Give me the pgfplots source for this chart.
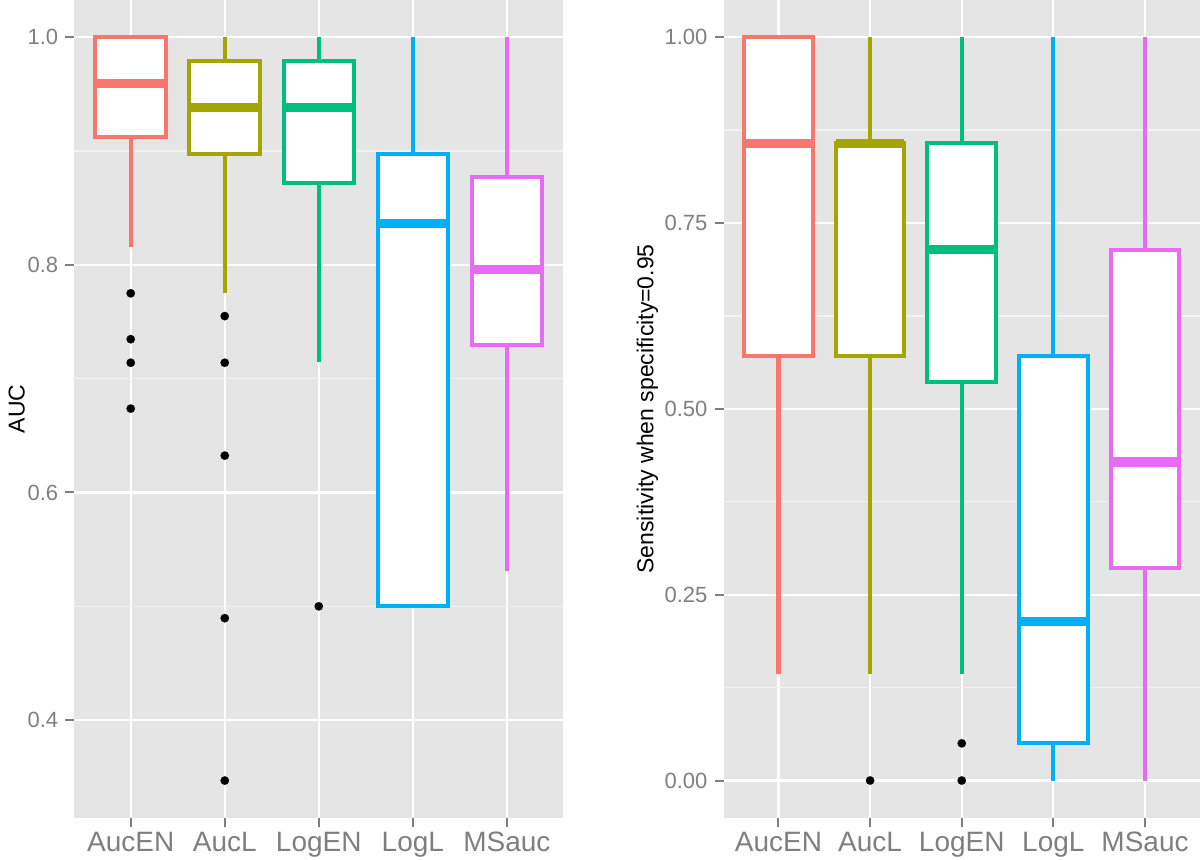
\documentclass[border=0pt]{standalone}
\usepackage{pgfplots}
\pgfplotsset{compat=1.18}
\usepgfplotslibrary{statistics}
\usepackage{fontspec}
\setmainfont{Liberation Sans}
\definecolor{cA}{HTML}{F8766D}
\definecolor{cB}{HTML}{A3A500}
\definecolor{cC}{HTML}{00BF7D}
\definecolor{cD}{HTML}{00B0F6}
\definecolor{cE}{HTML}{E76BF3}
\definecolor{bggray}{HTML}{E5E5E5}
\definecolor{minorgray}{HTML}{F2F2F2}
\definecolor{tickgray}{HTML}{7F7F7F}
\pgfplotsset{
  ggbox/.style={
    scale only axis,
    height=408.85pt,
    axis background/.style={fill=bggray},
    axis line style={draw=none},
    tick align=outside,
    xtick pos=left, ytick pos=left,
    major tick length=4.5pt,
    minor tick length=0pt,
    tick style={color=tickgray, line width=1pt},
    xmajorgrids, ymajorgrids, yminorgrids,
    major grid style={white, line width=1.1pt},
    minor grid style={minorgray, line width=0.6pt},
    xmin=0.4, xmax=5.6,
    xtick={1,2,3,4,5},
    xticklabels={AucEN,AucL,LogEN,LogL,MSauc},
    xticklabel style={font=\fontsize{14}{16}\selectfont, text=tickgray, inner sep=2.5pt},
    yticklabel style={font=\fontsize{11}{13}\selectfont, text=tickgray},
    ylabel style={font=\fontsize{11.5}{13}\selectfont, text=black, anchor=center},
    boxplot/draw direction=y,
    boxplot/box extend=0.75,
    boxplot/whisker extend=0,
    boxplot/every box/.append style={fill=white, line width=2pt},
    boxplot/every whisker/.append style={line width=2.1pt},
    boxplot/every median/.style={line width=4.6pt},
  },
  gg/.style={line width=2pt, solid, mark=*, mark size=2.1pt,
    mark options={draw=black, fill=black, line width=0.1pt}},
}
\begin{document}
\begin{tikzpicture}
\path[use as bounding box] (0,0) rectangle (600pt,430pt);
% ---------------- left panel: AUC ----------------
\begin{axis}[ggbox,
  at={(37.15pt,21.15pt)}, anchor=south west,
  width=244.5pt,
  ymin=0.3143, ymax=1.0327,
  ytick={0.4,0.6,0.8,1.0}, yticklabels={0.4,0.6,0.8,1.0},
  minor ytick={0.5,0.7,0.9},
  ylabel={AUC},
  ylabel style={at={(axis description cs:-0.1178,0.5)}},
]
\addplot[gg, draw=cA, boxplot prepared={draw position=1,
  lower whisker=0.816, lower quartile=0.9127, median=0.959,
  upper quartile=1.0, upper whisker=1.0}]
  coordinates {(1,0.775) (1,0.7347) (1,0.714) (1,0.6737)};
\addplot[gg, draw=cB, boxplot prepared={draw position=2,
  lower whisker=0.7756, lower quartile=0.8975, median=0.9385,
  upper quartile=0.979, upper whisker=1.0}]
  coordinates {(2,0.755) (2,0.714) (2,0.6324) (2,0.4896) (2,0.3469)};
\addplot[gg, draw=cC, boxplot prepared={draw position=3,
  lower whisker=0.7147, lower quartile=0.8723, median=0.9385,
  upper quartile=0.979, upper whisker=1.0}]
  coordinates {(3,0.5)};
\addplot[gg, draw=cD, boxplot prepared={draw position=4,
  lower whisker=0.5, lower quartile=0.5, median=0.8366,
  upper quartile=0.8975, upper whisker=1.0}]
  coordinates {};
\addplot[gg, draw=cE, boxplot prepared={draw position=5,
  lower whisker=0.5314, lower quartile=0.7297, median=0.7956,
  upper quartile=0.8776, upper whisker=1.0}]
  coordinates {};
\end{axis}
% ---------------- right panel: sensitivity ----------------
\begin{axis}[ggbox,
  at={(361.75pt,21.15pt)}, anchor=south west,
  width=238.25pt,
  ymin=-0.05, ymax=1.05,
  ytick={0,0.25,0.5,0.75,1}, yticklabels={0.00,0.25,0.50,0.75,1.00},
  minor ytick={0.125,0.375,0.625,0.875},
  ylabel={Sensitivity when specificity=0.95},
  ylabel style={at={(axis description cs:-0.1595,0.5)}},
]
\addplot[gg, draw=cA, boxplot prepared={draw position=1,
  lower whisker=0.1429, lower quartile=0.5714, median=0.8571,
  upper quartile=1.0, upper whisker=1.0}]
  coordinates {};
\addplot[gg, draw=cB, boxplot prepared={draw position=2,
  lower whisker=0.1429, lower quartile=0.5714, median=0.8571,
  upper quartile=0.8571, upper whisker=1.0}]
  coordinates {(2,0)};
\addplot[gg, draw=cC, boxplot prepared={draw position=3,
  lower whisker=0.1429, lower quartile=0.5363, median=0.7143,
  upper quartile=0.8571, upper whisker=1.0}]
  coordinates {(3,0.05) (3,0)};
\addplot[gg, draw=cD, boxplot prepared={draw position=4,
  lower whisker=0.0, lower quartile=0.05, median=0.2138,
  upper quartile=0.5714, upper whisker=1.0}]
  coordinates {};
\addplot[gg, draw=cE, boxplot prepared={draw position=5,
  lower whisker=0.0, lower quartile=0.2857, median=0.4286,
  upper quartile=0.7143, upper whisker=1.0}]
  coordinates {};
\end{axis}
\end{tikzpicture}
\end{document}
